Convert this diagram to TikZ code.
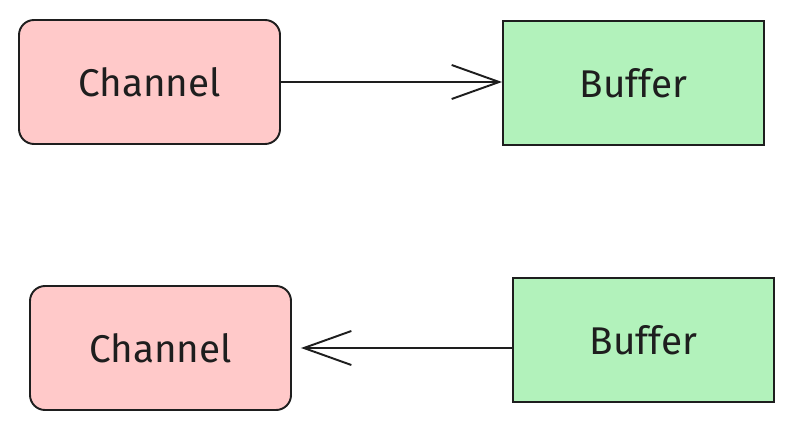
\documentclass[tikz,border=0pt]{standalone}
\usepackage{fontspec}
\setmainfont{Fira Sans}
\usetikzlibrary{arrows.meta}
\definecolor{chanpink}{HTML}{FFC9C9}
\definecolor{bufgreen}{HTML}{B2F2BB}
\definecolor{inkdark}{HTML}{1E1E1E}
\tikzset{
  box/.style={draw=inkdark, line width=1.1pt, minimum width=5.22cm, minimum height=2.48cm,
    font=\fontsize{22}{26}\selectfont, text=inkdark},
  chanbox/.style={box, fill=chanpink, rounded corners=0.3cm},
  bufbox/.style={box, fill=bufgreen},
  flow/.style={draw=inkdark, line width=1.1pt, -{Straight Barb[length=0.95cm,width=0.68cm,line width=1.1pt]}}
}
\begin{document}
\begin{tikzpicture}
\useasboundingbox (0,0) rectangle (15.86,8.6);
% Top row
\node[chanbox] (topchan) at (2.99, 6.96) {Channel};
\node[bufbox] (topbuf) at (12.67, 6.94) {Buffer};
\draw[flow] (topchan.east) -- (topbuf.west |- topchan.east);
% Bottom row
\node[chanbox] (botchan) at (3.21, 1.64) {Channel};
\node[bufbox] (botbuf) at (12.87, 1.80) {Buffer};
\draw[flow, shorten >=0.18cm] (botbuf.west |- botchan.east) -- (botchan.east);
\end{tikzpicture}
\end{document}
